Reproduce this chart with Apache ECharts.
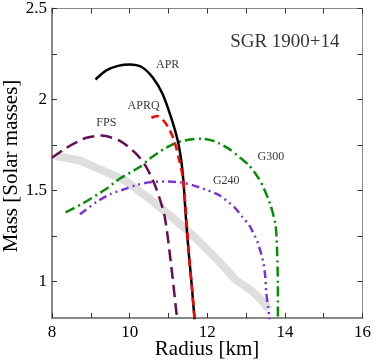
<!DOCTYPE html>
<html>
<head>
<meta charset="utf-8">
<script src="https://cdn.jsdelivr.net/npm/echarts@6/dist/echarts.min.js"></script>
<style>
  html, body { margin: 0; padding: 0; background: #fff; }
  #chart { width: 374px; height: 361px; }
</style>
</head>
<body>
<div id="chart"></div>
<script>
// mass-radius curves, [radius km, mass Msun]
const apr = [[9.12,2.11],[9.4,2.16],[9.7,2.185],[10.0,2.193],[10.3,2.18],[10.6,2.12],[10.85,2.03],[11.07,1.9],
  [11.24,1.774],[11.33,1.665],[11.39,1.54],[11.45,1.35],[11.52,1.165],[11.6,0.98],[11.67,0.8],[11.69,0.75]];
const aprq = [[10.56,1.9],[10.7,1.91],[10.85,1.89],[11.0,1.845],[11.15,1.774],[11.26,1.683],[11.37,1.574],
  [11.45,1.38],[11.52,1.165],[11.6,0.98],[11.67,0.8],[11.69,0.75]];
const fps = [[8.0,1.68],[8.3,1.725],[8.55,1.756],[8.89,1.79],[9.27,1.802],[9.74,1.774],[10.17,1.702],[10.43,1.629],
  [10.68,1.515],[10.9,1.36],[11.07,1.09],[11.22,0.8],[11.24,0.75]];
const g300 = [[8.35,1.38],[8.8,1.43],[9.4,1.51],[9.74,1.565],[10.26,1.629],[10.51,1.674],[10.9,1.73],[11.24,1.765],
  [11.6,1.782],[11.88,1.784],[12.2,1.77],[12.56,1.729],[12.85,1.68],[13.08,1.638],[13.33,1.565],[13.46,1.511],
  [13.63,1.42],[13.76,1.31],[13.8,1.165],[13.82,0.98],[13.82,0.75]];
const g240 = [[8.72,1.37],[9.15,1.438],[9.5,1.48],[9.91,1.511],[10.17,1.53],[10.5,1.545],[10.9,1.55],[11.3,1.545],
  [11.62,1.53],[12.0,1.502],[12.31,1.474],[12.69,1.41],[12.9,1.356],[13.08,1.31],[13.3,1.215],[13.44,1.11],
  [13.49,1.038],[13.52,0.938],[13.57,0.856],[13.6,0.8],[13.61,0.75]];
// grey observational band
const band = [[8.1,1.69],[8.72,1.665],[9.1,1.629],[9.49,1.593],[9.92,1.55],[10.26,1.495],[10.51,1.456],[11.03,1.365],
  [11.62,1.256],[12.22,1.129],[12.73,1.01],[13.16,0.947],[13.42,0.892],[13.59,0.847]];

const xLabels = [8, 10, 12, 14, 16];
const yLabels = [1, 1.5, 2, 2.5];
const yTicks = [1, 1.25, 1.5, 1.75, 2, 2.25, 2.5];

const curveLabels = [
  {name: 'APR', value: [10.98, 2.19]},
  {name: 'APRQ', value: [10.36, 1.968]},
  {name: 'FPS', value: [9.4, 1.87]},
  {name: 'G300', value: [13.64, 1.687]},
  {name: 'G240', value: [12.49, 1.551]}
];
const title = {name: 'SGR 1900+14', value: [14.0, 2.314]};

const font = 'Liberation Serif';
let chart = echarts.init(document.getElementById('chart'));

function lineSeries(name, data, color, type, width) {
  return {
    name: name, type: 'line', data: data, showSymbol: false, symbol: 'none', smooth: 0.25,
    lineStyle: {color: color, width: width || 2.5, type: type},
    animation: false
  };
}

function tick(extra) {
  return Object.assign({show: true, inside: true, length: 5, lineStyle: {color: '#333', width: 1}}, extra || {});
}

let option = {
  animation: false,
  grid: {left: 52, right: 11, top: 7, bottom: 43},
  // axis titles
  graphic: [
    {
      type: 'text', x: 207, y: 349,
      style: {text: 'Radius [km]', font: '21px "Liberation Serif"', fill: '#000', align: 'center', verticalAlign: 'middle'}
    },
    {
      type: 'text', x: 11, y: 166, rotation: Math.PI / 2,
      style: {text: 'Mass [Solar masses]', font: '21px "Liberation Serif"', fill: '#000', align: 'center', verticalAlign: 'middle'}
    }
  ],
  xAxis: [{
    type: 'value', min: 8, max: 16, interval: 1, position: 'bottom',
    axisLine: {show: true, lineStyle: {color: '#888', width: 2}},
    axisTick: tick(),
    axisLabel: {customValues: xLabels, fontFamily: font, fontSize: 17, color: '#000', margin: 6},
    splitLine: {show: false}
  }, {
    type: 'value', min: 8, max: 16, interval: 1, position: 'top',
    axisLine: {show: true, lineStyle: {color: '#888', width: 1}},
    axisTick: tick(),
    axisLabel: {show: false},
    splitLine: {show: false}
  }],
  yAxis: [{
    type: 'value', min: 0.8, max: 2.5, position: 'left',
    axisLine: {show: true, lineStyle: {color: '#888', width: 2}},
    axisTick: tick({customValues: yTicks}),
    axisLabel: {customValues: yLabels, fontFamily: font, fontSize: 17, color: '#000', margin: 5},
    splitLine: {show: false}
  }, {
    type: 'value', min: 0.8, max: 2.5, position: 'right',
    axisLine: {show: true, lineStyle: {color: '#888', width: 1}},
    axisTick: tick({customValues: yTicks}),
    axisLabel: {show: false},
    splitLine: {show: false}
  }],
  series: [
    {
      name: 'band', type: 'line', data: band, showSymbol: false, symbol: 'none',
      lineStyle: {color: '#dedede', width: 8}, z: 1
    },
    lineSeries('FPS', fps, '#650d55', [12, 6]),
    lineSeries('G240', g240, '#7b35cf', [8, 4, 2, 4, 2, 4]),
    lineSeries('G300', g300, '#0a8c0a', [10, 4, 2, 4]),
    lineSeries('APR', apr, '#000', 'solid'),
    lineSeries('APRQ', aprq, '#ff0000', [8, 5]),
    {
      name: 'labels', type: 'scatter', symbolSize: 0, silent: true,
      data: curveLabels.concat([Object.assign({}, title, {label: {fontSize: 19}})]),
      label: {
        show: true, position: 'inside', formatter: '{b}',
        fontFamily: font, fontSize: 12, color: '#000'
      },
      z: 10
    }
  ]
};

chart.setOption(option);
</script>
</body>
</html>
